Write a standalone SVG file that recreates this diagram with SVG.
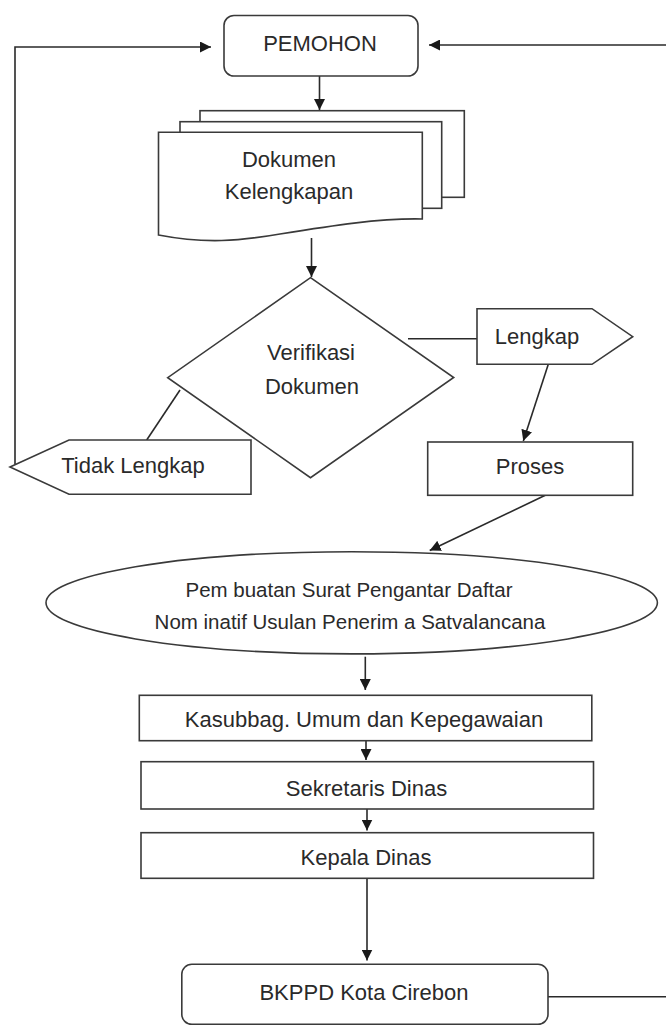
<svg xmlns="http://www.w3.org/2000/svg" width="666" height="1026" viewBox="0 0 666 1026">
<defs>
<style>
.s{fill:#fff;stroke:#3a3a3a;stroke-width:1.6}
.c{fill:none;stroke:#2a2a2a;stroke-width:1.6}
.t{font-family:"Liberation Sans",Arial,sans-serif;font-size:22px;fill:#2a2a2a;text-anchor:middle}
.e{font-family:"Liberation Sans",Arial,sans-serif;font-size:20.5px;fill:#2a2a2a;text-anchor:middle}
</style>
<marker id="ah" viewBox="0 0 10 10" refX="10" refY="5" markerWidth="11" markerHeight="11" markerUnits="userSpaceOnUse" orient="auto">
<path d="M0,0 L10,5 L0,10 z" fill="#1a1a1a"/>
</marker>
</defs>
<rect width="666" height="1026" fill="#fff"/>

<g id="connectors">
<path class="c" d="M15,464 V47 H211" marker-end="url(#ah)"/>
<path class="c" d="M666,45 H429" marker-end="url(#ah)"/>
<path class="c" d="M319.5,76 V110" marker-end="url(#ah)"/>
<path class="c" d="M311.5,238 V277" marker-end="url(#ah)"/>
<path class="c" d="M408,338.7 H477"/>
<path class="c" d="M180,390 L146.7,440"/>
<path class="c" d="M548.3,364.3 L523.3,441" marker-end="url(#ah)"/>
<path class="c" d="M545.3,495.3 L429.7,550.5" marker-end="url(#ah)"/>
<path class="c" d="M365.3,656.7 V690" marker-end="url(#ah)"/>
<path class="c" d="M366,740.7 V760" marker-end="url(#ah)"/>
<path class="c" d="M367,809 V830.5" marker-end="url(#ah)"/>
<path class="c" d="M367,878.3 V960.5" marker-end="url(#ah)"/>
<path class="c" d="M548,996.7 H666"/>
</g>

<g id="pemohon">
<rect class="s" x="224" y="15.5" width="194" height="60.5" rx="10"/>
<text class="t" x="320" y="51">PEMOHON</text>
</g>

<g id="dokumen">
<rect class="s" x="200" y="110.7" width="264.3" height="86.6"/>
<rect class="s" x="180" y="121.7" width="261.7" height="86.6"/>
<path class="s" d="M158.5,132.3 H422.3 V219 C380,218 330,226 280,234 C240,241 205,244 158.5,235 Z"/>
<text class="t" x="289" y="166.7">Dokumen</text>
<text class="t" x="289" y="199">Kelengkapan</text>
</g>

<g id="verifikasi">
<polygon class="s" points="310.5,277.7 453.7,377.5 310.5,477.7 167.7,377.7"/>
<text class="t" x="311" y="360">Verifikasi</text>
<text class="t" x="312" y="394">Dokumen</text>
</g>

<g id="lengkap">
<polygon class="s" points="477,308.7 592,308.7 632.7,336.7 592,364.3 477,364.3"/>
<text class="t" x="537" y="343.7">Lengkap</text>
</g>

<g id="tidak-lengkap">
<polygon class="s" points="10,467 69,440 251,440 251,494.3 69,494.3"/>
<text class="t" x="133" y="472.7">Tidak Lengkap</text>
</g>

<g id="proses">
<rect class="s" x="427.7" y="442" width="205" height="53.3"/>
<text class="t" x="530" y="474.3">Proses</text>
</g>

<g id="pembuatan">
<ellipse class="s" cx="351.7" cy="602.8" rx="305.7" ry="51.1"/>
<text class="e" x="349" y="597">Pem buatan Surat Pengantar Daftar</text>
<text class="e" x="350" y="628.7">Nom inatif Usulan Penerim a Satvalancana</text>
</g>

<g id="kasubbag">
<rect class="s" x="139.3" y="695.3" width="452.5" height="45.4"/>
<text class="t" x="364" y="727">Kasubbag. Umum dan Kepegawaian</text>
</g>

<g id="sekretaris">
<rect class="s" x="141" y="761.7" width="452.5" height="47.3"/>
<text class="t" x="366.5" y="795.7">Sekretaris Dinas</text>
</g>

<g id="kepala">
<rect class="s" x="141" y="832.7" width="452.5" height="45.6"/>
<text class="t" x="366" y="865">Kepala Dinas</text>
</g>

<g id="bkppd">
<rect class="s" x="181.8" y="964.3" width="366.2" height="60" rx="10"/>
<text class="t" x="364" y="1000">BKPPD Kota Cirebon</text>
</g>
</svg>
